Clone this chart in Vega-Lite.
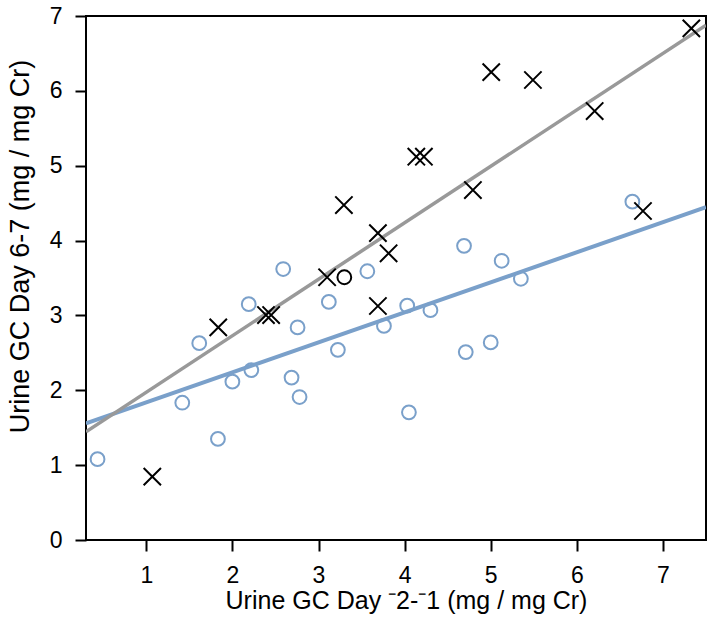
{
  "$schema": "https://vega.github.io/schema/vega-lite/v6.json",
  "autosize": {"type": "none"},
  "width": 620,
  "height": 524,
  "padding": {"left": 86, "top": 16, "right": 3, "bottom": 92},
  "background": "white",
  "config": {
    "view": {"stroke": "black", "strokeWidth": 2},
    "font": "Liberation Sans",
    "axis": {
      "grid": false,
      "domain": false,
      "tickColor": "black",
      "tickWidth": 2,
      "tickSize": 11,
      "labelFont": "Liberation Sans",
      "labelFontSize": 23,
      "labelColor": "black",
      "titleFont": "Liberation Sans",
      "titleFontWeight": "normal",
      "titleColor": "black"
    }
  },
  "data": {
    "values": [
      {"x": 0.434, "y": 1.08, "group": "A", "highlight": false},
      {"x": 1.418, "y": 1.834, "group": "A", "highlight": false},
      {"x": 1.832, "y": 1.35, "group": "A", "highlight": false},
      {"x": 1.615, "y": 2.63, "group": "A", "highlight": false},
      {"x": 2.0, "y": 2.115, "group": "A", "highlight": false},
      {"x": 2.22, "y": 2.27, "group": "A", "highlight": false},
      {"x": 2.19, "y": 3.15, "group": "A", "highlight": false},
      {"x": 2.59, "y": 3.62, "group": "A", "highlight": false},
      {"x": 2.757, "y": 2.84, "group": "A", "highlight": false},
      {"x": 2.687, "y": 2.17, "group": "A", "highlight": false},
      {"x": 2.78, "y": 1.91, "group": "A", "highlight": false},
      {"x": 3.12, "y": 3.18, "group": "A", "highlight": false},
      {"x": 3.225, "y": 2.54, "group": "A", "highlight": false},
      {"x": 3.30, "y": 3.51, "group": "A", "highlight": true},
      {"x": 3.567, "y": 3.59, "group": "A", "highlight": false},
      {"x": 3.76, "y": 2.86, "group": "A", "highlight": false},
      {"x": 4.03, "y": 3.13, "group": "A", "highlight": false},
      {"x": 4.30, "y": 3.07, "group": "A", "highlight": false},
      {"x": 4.05, "y": 1.705, "group": "A", "highlight": false},
      {"x": 4.69, "y": 3.93, "group": "A", "highlight": false},
      {"x": 4.71, "y": 2.51, "group": "A", "highlight": false},
      {"x": 5.0, "y": 2.64, "group": "A", "highlight": false},
      {"x": 5.127, "y": 3.73, "group": "A", "highlight": false},
      {"x": 5.35, "y": 3.49, "group": "A", "highlight": false},
      {"x": 6.645, "y": 4.52, "group": "A", "highlight": false},
      {"x": 1.07, "y": 0.846, "group": "B", "highlight": false},
      {"x": 1.836, "y": 2.84, "group": "B", "highlight": false},
      {"x": 2.39, "y": 3.005, "group": "B", "highlight": false},
      {"x": 2.45, "y": 3.005, "group": "B", "highlight": false},
      {"x": 3.295, "y": 4.475, "group": "B", "highlight": false},
      {"x": 3.69, "y": 4.10, "group": "B", "highlight": false},
      {"x": 3.814, "y": 3.83, "group": "B", "highlight": false},
      {"x": 3.10, "y": 3.51, "group": "B", "highlight": false},
      {"x": 3.69, "y": 3.126, "group": "B", "highlight": false},
      {"x": 5.006, "y": 6.25, "group": "B", "highlight": false},
      {"x": 5.49, "y": 6.145, "group": "B", "highlight": false},
      {"x": 6.207, "y": 5.73, "group": "B", "highlight": false},
      {"x": 4.136, "y": 5.12, "group": "B", "highlight": false},
      {"x": 4.224, "y": 5.12, "group": "B", "highlight": false},
      {"x": 4.793, "y": 4.675, "group": "B", "highlight": false},
      {"x": 6.768, "y": 4.395, "group": "B", "highlight": false},
      {"x": 7.33, "y": 6.835, "group": "B", "highlight": false}
    ]
  },
  "encoding": {
    "x": {
      "field": "x",
      "type": "quantitative",
      "scale": {"domain": [0.3, 7.5], "nice": false, "zero": false},
      "axis": {
        "values": [1, 2, 3, 4, 5, 6, 7],
        "labelPadding": 13,
        "title": "Urine GC Day \u207b2-\u207b1 (mg / mg Cr)",
        "titleFontSize": 25,
        "titleBaseline": "alphabetic",
        "titleAnchor": "middle",
        "titleX": 320,
        "titleY": 68
      }
    },
    "y": {
      "field": "y",
      "type": "quantitative",
      "scale": {"domain": [0, 7], "nice": false, "zero": false},
      "axis": {
        "values": [0, 1, 2, 3, 4, 5, 6, 7],
        "labelPadding": 13,
        "title": "Urine GC Day 6-7 (mg / mg Cr)",
        "titleFontSize": 27,
        "titleBaseline": "alphabetic",
        "titleAnchor": "middle",
        "titleX": -58,
        "titleY": 230
      }
    }
  },
  "layer": [
    {
      "transform": [
        {"filter": "datum.group === 'A'"},
        {"regression": "y", "on": "x", "extent": [0.3, 7.5]}
      ],
      "mark": {"type": "line", "color": "#7aa0ca", "strokeWidth": 4, "clip": true}
    },
    {
      "transform": [
        {"filter": "datum.group === 'B'"},
        {"regression": "y", "on": "x", "extent": [0.3, 7.5]}
      ],
      "mark": {"type": "line", "color": "#999999", "strokeWidth": 3.5, "clip": true}
    },
    {
      "transform": [{"filter": "datum.group === 'A'"}],
      "mark": {"type": "point", "shape": "circle", "filled": false, "size": 190, "strokeWidth": 2, "opacity": 1},
      "encoding": {
        "stroke": {
          "condition": {"test": "datum.highlight", "value": "black"},
          "value": "#7aa0ca"
        }
      }
    },
    {
      "transform": [{"filter": "datum.group === 'B'"}],
      "mark": {"type": "point", "shape": "M-1,-1L1,1M-1,1L1,-1", "filled": false, "size": 300, "strokeWidth": 2, "stroke": "black", "opacity": 1}
    }
  ]
}
